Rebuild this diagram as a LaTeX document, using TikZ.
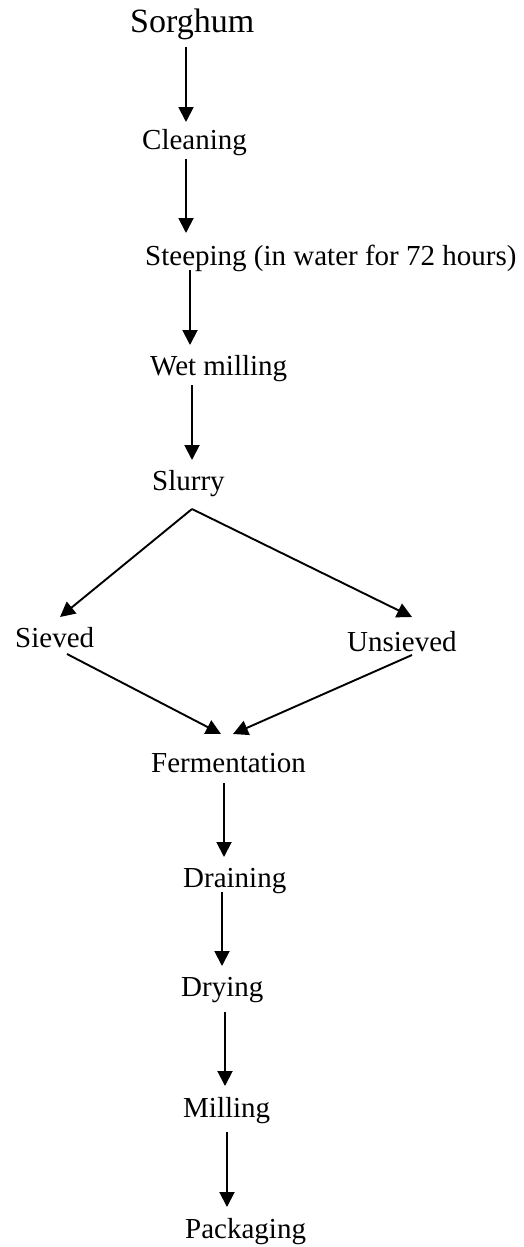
\documentclass[tikz,border=0pt]{standalone}
\usepackage{fontspec}
\setmainfont{Liberation Serif}
\usetikzlibrary{arrows.meta}
\tikzset{
  stage/.style={anchor=base west, inner sep=0pt, font=\fontsize{29}{34}\selectfont},
  title/.style={anchor=base west, inner sep=0pt, font=\fontsize{34}{40}\selectfont},
  flow/.style={line width=1.9pt, -{Triangle[width=15pt,length=15pt]}}
}
\begin{document}
\begin{tikzpicture}[x=1pt,y=1pt]
\useasboundingbox (0,0) rectangle (524,-1247);
% process steps
\node[title] (sorghum)   at (130,-33)   {Sorghum};
\node[stage] (cleaning)  at (142,-149)  {Cleaning};
\node[stage] (steeping)  at (145,-265)  {Steeping (in water for 72 hours)};
\node[stage] (wetmill)   at (150,-375)  {Wet milling};
\node[stage] (slurry)    at (152,-490)  {Slurry};
\node[stage] (sieved)    at (15,-647)   {Sieved};
\node[stage] (unsieved)  at (347,-651)  {Unsieved};
\node[stage] (ferment)   at (151,-772)  {Fermentation};
\node[stage] (draining)  at (183,-887)  {Draining};
\node[stage] (drying)    at (181,-996)  {Drying};
\node[stage] (milling)   at (183,-1117) {Milling};
\node[stage] (packaging) at (185,-1238) {Packaging};
% connectors
\draw[flow] ([shift={(56,-14)}]sorghum.base west) -- ([shift={(44,27)}]cleaning.base west);
\draw[flow] ([shift={(44,-10)}]cleaning.base west) -- ([shift={(41,32)}]steeping.base west);
\draw[flow] ([shift={(45,-5)}]steeping.base west) -- ([shift={(40,30)}]wetmill.base west);
\draw[flow] ([shift={(42,-10)}]wetmill.base west) -- ([shift={(40,30)}]slurry.base west);
\draw[flow] ([shift={(40,-19)}]slurry.base west) -- ([shift={(45,30)}]sieved.base west);
\draw[flow] ([shift={(40,-19)}]slurry.base west) -- ([shift={(65,34)}]unsieved.base west);
\draw[flow] ([shift={(52,-7)}]sieved.base west) -- ([shift={(70,38)}]ferment.base west);
\draw[flow] ([shift={(65,-4)}]unsieved.base west) -- ([shift={(82,38)}]ferment.base west);
\draw[flow] ([shift={(73,-11)}]ferment.base west) -- ([shift={(41,30)}]draining.base west);
\draw[flow] ([shift={(39,-5)}]draining.base west) -- ([shift={(41,30)}]drying.base west);
\draw[flow] ([shift={(44,-16)}]drying.base west) -- ([shift={(42,31)}]milling.base west);
\draw[flow] ([shift={(44,-15)}]milling.base west) -- ([shift={(42,31)}]packaging.base west);
\end{tikzpicture}
\end{document}
